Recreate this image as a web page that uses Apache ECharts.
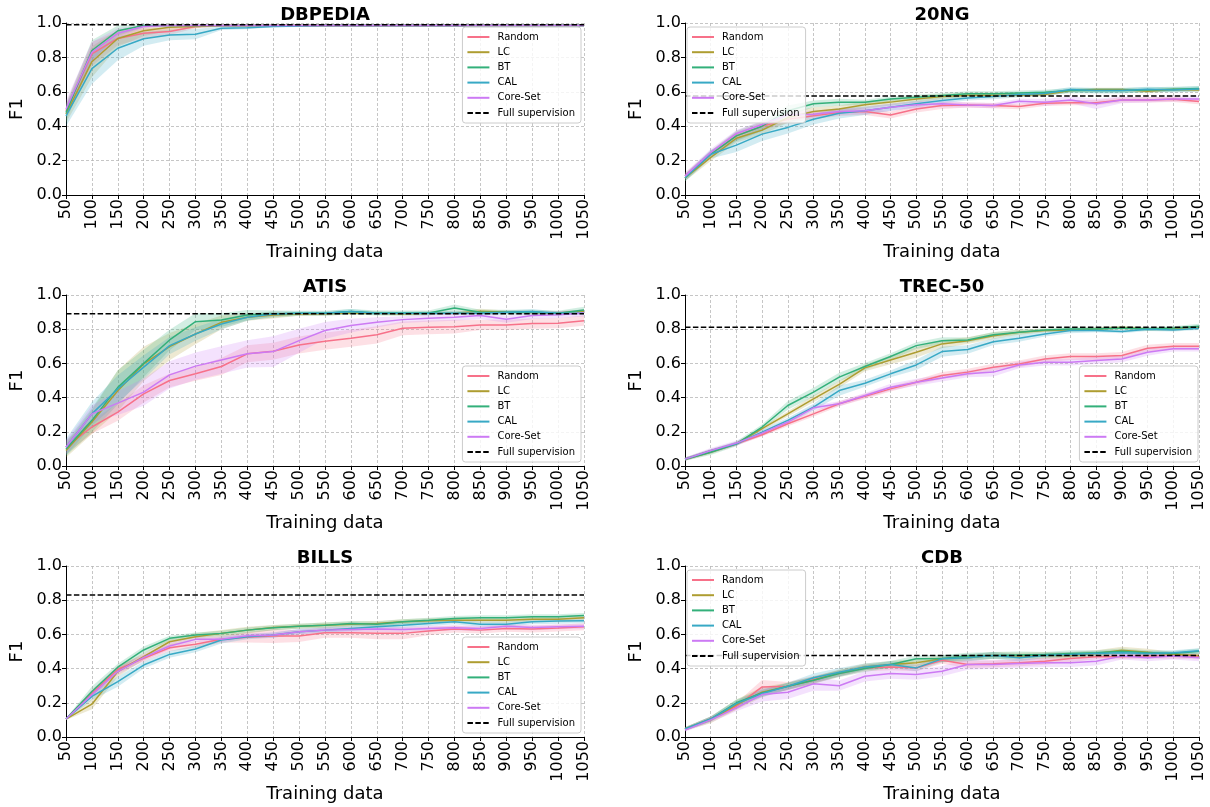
<!DOCTYPE html>
<html>
<head>
<meta charset="utf-8">
<script src="https://cdn.jsdelivr.net/npm/echarts@6/dist/echarts.min.js"></script>
<style>
html,body{margin:0;padding:0;background:#fff;}
#chart{width:1210px;height:807px;}
</style>
</head>
<body>
<div id="chart"></div>
<script>
// ---------- DATA ----------
const trainingData = ['50','100','150','200','250','300','350','400','450','500','550','600','650','700','750','800','850','900','950','1000','1050'];
const methodNames = ['Random','LC','BT','CAL','Core-Set'];
const fullName = 'Full supervision';
const panelTitles = ['DBPEDIA','20NG','ATIS','TREC-50','BILLS','CDB'];
const yTicks = [0, 0.2, 0.4, 0.6, 0.8, 1.0];

// DBPEDIA
const dbpediaFull = 0.99;
const dbpediaMean = [
  [0.49,0.82,0.91,0.94,0.95,0.98,0.985,0.985,0.985,0.985,0.985,0.985,0.985,0.985,0.985,0.985,0.985,0.985,0.985,0.985,0.985],
  [0.47,0.775,0.91,0.955,0.975,0.98,0.985,0.985,0.985,0.985,0.985,0.985,0.985,0.985,0.985,0.985,0.985,0.985,0.985,0.985,0.985],
  [0.48,0.84,0.955,0.985,0.985,0.985,0.985,0.985,0.985,0.985,0.985,0.985,0.985,0.985,0.985,0.985,0.985,0.985,0.985,0.985,0.985],
  [0.46,0.735,0.853,0.908,0.93,0.935,0.97,0.973,0.98,0.982,0.985,0.985,0.985,0.985,0.985,0.985,0.985,0.985,0.985,0.985,0.985],
  [0.50,0.83,0.94,0.98,0.985,0.985,0.985,0.985,0.985,0.985,0.985,0.985,0.985,0.985,0.985,0.985,0.985,0.985,0.985,0.985,0.985]
];
const dbpediaBand = [
  [0.04,0.07,0.04,0.03,0.02,0.01,0.005,0.005,0.005,0.005,0.005,0.005,0.005,0.005,0.005,0.005,0.005,0.005,0.005,0.005,0.005],
  [0.05,0.09,0.05,0.03,0.02,0.01,0.005,0.005,0.005,0.005,0.005,0.005,0.005,0.005,0.005,0.005,0.005,0.005,0.005,0.005,0.005],
  [0.05,0.06,0.03,0.01,0.005,0.005,0.005,0.005,0.005,0.005,0.005,0.005,0.005,0.005,0.005,0.005,0.005,0.005,0.005,0.005,0.005],
  [0.06,0.09,0.07,0.04,0.03,0.03,0.01,0.01,0.005,0.005,0.005,0.005,0.005,0.005,0.005,0.005,0.005,0.005,0.005,0.005,0.005],
  [0.05,0.06,0.03,0.01,0.005,0.005,0.005,0.005,0.005,0.005,0.005,0.005,0.005,0.005,0.005,0.005,0.005,0.005,0.005,0.005,0.005]
];

// 20NG
const ng20Full = 0.575;
const ng20Mean = [
  [0.11,0.237,0.344,0.40,0.44,0.46,0.48,0.485,0.465,0.50,0.52,0.523,0.52,0.514,0.533,0.537,0.537,0.553,0.553,0.556,0.543],
  [0.10,0.218,0.33,0.377,0.45,0.485,0.50,0.525,0.54,0.558,0.572,0.58,0.58,0.58,0.584,0.607,0.613,0.613,0.603,0.613,0.611],
  [0.10,0.237,0.344,0.40,0.49,0.53,0.539,0.539,0.558,0.568,0.578,0.588,0.588,0.593,0.597,0.607,0.607,0.607,0.611,0.615,0.619],
  [0.10,0.237,0.29,0.354,0.393,0.44,0.475,0.49,0.51,0.53,0.549,0.564,0.572,0.584,0.59,0.613,0.607,0.607,0.615,0.611,0.617],
  [0.11,0.247,0.358,0.41,0.467,0.47,0.485,0.49,0.51,0.525,0.53,0.523,0.52,0.545,0.539,0.553,0.53,0.553,0.553,0.558,0.558]
];
const ng20Band = [
  [0.02,0.02,0.025,0.025,0.02,0.02,0.02,0.02,0.02,0.02,0.02,0.015,0.015,0.015,0.015,0.015,0.015,0.015,0.015,0.015,0.015],
  [0.02,0.02,0.025,0.025,0.03,0.025,0.02,0.02,0.02,0.02,0.015,0.015,0.015,0.01,0.01,0.01,0.01,0.01,0.01,0.01,0.01],
  [0.02,0.02,0.03,0.03,0.03,0.02,0.02,0.015,0.015,0.015,0.015,0.015,0.015,0.015,0.015,0.015,0.015,0.015,0.015,0.015,0.015],
  [0.02,0.025,0.04,0.04,0.035,0.03,0.03,0.025,0.02,0.02,0.015,0.015,0.015,0.015,0.015,0.015,0.015,0.015,0.015,0.015,0.015],
  [0.02,0.02,0.02,0.02,0.02,0.02,0.02,0.02,0.02,0.02,0.02,0.015,0.015,0.015,0.02,0.02,0.03,0.02,0.015,0.015,0.015]
];

// ATIS
const atisFull = 0.89;
const atisMean = [
  [0.11,0.228,0.315,0.422,0.50,0.539,0.582,0.656,0.671,0.708,0.73,0.747,0.767,0.805,0.811,0.815,0.825,0.825,0.833,0.835,0.85],
  [0.09,0.257,0.44,0.597,0.698,0.772,0.84,0.87,0.883,0.889,0.89,0.895,0.893,0.89,0.893,0.893,0.905,0.90,0.898,0.895,0.905],
  [0.10,0.267,0.46,0.60,0.737,0.844,0.854,0.883,0.889,0.893,0.893,0.903,0.895,0.895,0.895,0.924,0.899,0.899,0.899,0.893,0.912],
  [0.11,0.305,0.45,0.578,0.704,0.772,0.83,0.87,0.889,0.893,0.893,0.903,0.893,0.893,0.893,0.895,0.893,0.899,0.903,0.893,0.895],
  [0.11,0.305,0.368,0.432,0.533,0.584,0.62,0.656,0.669,0.733,0.792,0.821,0.84,0.856,0.864,0.87,0.88,0.858,0.88,0.885,0.895]
];
const atisBand = [
  [0.04,0.04,0.05,0.05,0.04,0.04,0.05,0.05,0.05,0.05,0.05,0.05,0.05,0.04,0.04,0.04,0.03,0.03,0.03,0.03,0.03],
  [0.04,0.07,0.12,0.10,0.08,0.06,0.04,0.02,0.02,0.01,0.01,0.01,0.01,0.01,0.01,0.01,0.015,0.01,0.01,0.01,0.01],
  [0.04,0.07,0.10,0.08,0.06,0.05,0.04,0.03,0.02,0.015,0.015,0.015,0.015,0.015,0.015,0.02,0.015,0.015,0.015,0.015,0.02],
  [0.05,0.07,0.08,0.07,0.05,0.04,0.03,0.02,0.015,0.01,0.01,0.015,0.01,0.01,0.01,0.01,0.01,0.01,0.015,0.01,0.01],
  [0.04,0.05,0.07,0.08,0.08,0.08,0.08,0.08,0.09,0.07,0.05,0.04,0.03,0.02,0.02,0.02,0.02,0.02,0.02,0.02,0.02]
];

// TREC-50
const trecFull = 0.811;
const trecMean = [
  [0.04,0.09,0.13,0.183,0.247,0.305,0.364,0.407,0.451,0.49,0.529,0.549,0.578,0.597,0.626,0.64,0.64,0.646,0.689,0.70,0.70],
  [0.04,0.08,0.13,0.218,0.305,0.393,0.477,0.574,0.62,0.665,0.714,0.733,0.762,0.782,0.792,0.796,0.801,0.81,0.801,0.801,0.81],
  [0.04,0.08,0.13,0.228,0.354,0.432,0.52,0.582,0.64,0.704,0.733,0.737,0.768,0.782,0.796,0.801,0.801,0.807,0.801,0.807,0.817],
  [0.04,0.09,0.13,0.198,0.267,0.344,0.441,0.484,0.539,0.591,0.669,0.681,0.727,0.747,0.772,0.792,0.792,0.786,0.80,0.796,0.805],
  [0.04,0.09,0.134,0.192,0.257,0.34,0.364,0.412,0.461,0.49,0.514,0.539,0.549,0.591,0.607,0.607,0.617,0.626,0.665,0.685,0.685]
];
const trecBand = [
  [0.01,0.01,0.01,0.01,0.015,0.015,0.015,0.015,0.015,0.015,0.02,0.02,0.02,0.02,0.02,0.02,0.02,0.02,0.02,0.02,0.02],
  [0.01,0.01,0.01,0.01,0.015,0.02,0.02,0.02,0.025,0.03,0.025,0.02,0.02,0.015,0.01,0.01,0.01,0.01,0.01,0.01,0.01],
  [0.01,0.015,0.015,0.015,0.025,0.025,0.025,0.02,0.02,0.02,0.02,0.015,0.015,0.015,0.01,0.01,0.01,0.01,0.01,0.01,0.015],
  [0.01,0.01,0.01,0.015,0.015,0.02,0.03,0.02,0.02,0.03,0.03,0.025,0.02,0.02,0.015,0.015,0.01,0.01,0.01,0.01,0.01],
  [0.01,0.015,0.015,0.015,0.015,0.015,0.015,0.015,0.02,0.02,0.02,0.02,0.025,0.02,0.02,0.02,0.02,0.02,0.02,0.015,0.015]
];

// BILLS
const billsFull = 0.83;
const billsMean = [
  [0.105,0.256,0.396,0.46,0.522,0.542,0.571,0.583,0.59,0.59,0.61,0.61,0.606,0.606,0.62,0.631,0.625,0.635,0.631,0.637,0.645],
  [0.105,0.192,0.383,0.47,0.557,0.586,0.606,0.625,0.64,0.648,0.654,0.66,0.664,0.674,0.68,0.683,0.683,0.683,0.689,0.689,0.697],
  [0.105,0.266,0.408,0.509,0.577,0.596,0.606,0.625,0.639,0.648,0.654,0.664,0.66,0.674,0.683,0.693,0.697,0.697,0.703,0.703,0.71],
  [0.105,0.237,0.324,0.421,0.483,0.515,0.567,0.586,0.596,0.616,0.625,0.635,0.645,0.654,0.664,0.674,0.66,0.66,0.674,0.678,0.68],
  [0.105,0.247,0.383,0.466,0.532,0.571,0.571,0.592,0.596,0.616,0.625,0.629,0.631,0.629,0.635,0.639,0.635,0.648,0.64,0.645,0.648]
];
const billsBand = [
  [0.005,0.02,0.02,0.02,0.02,0.02,0.02,0.03,0.04,0.035,0.03,0.03,0.035,0.035,0.025,0.02,0.02,0.02,0.02,0.02,0.02],
  [0.005,0.03,0.03,0.02,0.02,0.02,0.02,0.02,0.015,0.015,0.015,0.015,0.015,0.015,0.015,0.015,0.015,0.015,0.015,0.015,0.015],
  [0.005,0.03,0.02,0.02,0.015,0.015,0.015,0.015,0.015,0.015,0.015,0.015,0.015,0.015,0.015,0.015,0.015,0.015,0.015,0.015,0.015],
  [0.005,0.02,0.03,0.02,0.02,0.02,0.02,0.015,0.015,0.015,0.015,0.015,0.015,0.015,0.015,0.015,0.015,0.015,0.015,0.015,0.015],
  [0.005,0.02,0.02,0.02,0.02,0.015,0.015,0.015,0.015,0.015,0.015,0.015,0.015,0.015,0.015,0.015,0.015,0.015,0.015,0.015,0.015]
];

// CDB
const cdbFull = 0.477;
const cdbMean = [
  [0.047,0.105,0.18,0.293,0.297,0.336,0.371,0.404,0.41,0.404,0.449,0.424,0.428,0.434,0.443,0.459,0.469,0.469,0.473,0.473,0.469],
  [0.047,0.10,0.19,0.262,0.297,0.332,0.375,0.41,0.424,0.434,0.457,0.463,0.477,0.473,0.477,0.477,0.488,0.508,0.496,0.482,0.477],
  [0.047,0.105,0.20,0.258,0.297,0.332,0.371,0.40,0.424,0.457,0.459,0.473,0.477,0.48,0.482,0.488,0.492,0.502,0.492,0.488,0.502],
  [0.047,0.105,0.195,0.254,0.297,0.346,0.379,0.41,0.424,0.404,0.457,0.463,0.477,0.463,0.477,0.482,0.488,0.492,0.488,0.492,0.504],
  [0.04,0.10,0.17,0.248,0.262,0.311,0.30,0.355,0.371,0.365,0.385,0.424,0.424,0.43,0.434,0.434,0.443,0.473,0.463,0.473,0.463]
];
const cdbBand = [
  [0.01,0.015,0.02,0.04,0.025,0.02,0.02,0.02,0.02,0.02,0.02,0.02,0.02,0.02,0.02,0.02,0.015,0.015,0.015,0.015,0.015],
  [0.01,0.02,0.03,0.03,0.02,0.02,0.02,0.02,0.02,0.02,0.02,0.02,0.02,0.02,0.02,0.02,0.02,0.02,0.02,0.015,0.015],
  [0.01,0.015,0.02,0.02,0.02,0.02,0.02,0.02,0.02,0.02,0.02,0.02,0.02,0.02,0.015,0.02,0.015,0.015,0.015,0.015,0.015],
  [0.01,0.015,0.02,0.02,0.02,0.025,0.025,0.02,0.02,0.02,0.02,0.02,0.02,0.02,0.015,0.015,0.015,0.015,0.015,0.015,0.015],
  [0.01,0.015,0.02,0.04,0.04,0.04,0.03,0.03,0.03,0.03,0.03,0.03,0.025,0.025,0.025,0.025,0.025,0.02,0.02,0.02,0.02]
];

// ---------- STYLE / LAYOUT ----------
const colors = ['#f77189','#ae9d31','#33b07a','#38a9c5','#cc7af4'];
const FONT = 'DejaVu Sans';
const panelMeans = [dbpediaMean, ng20Mean, atisMean, trecMean, billsMean, cdbMean];
const panelBands = [dbpediaBand, ng20Band, atisBand, trecBand, billsBand, cdbBand];
const panelFull = [dbpediaFull, ng20Full, atisFull, trecFull, billsFull, cdbFull];

const gridBoxes = [
  {left:66, top:23, width:518, height:172},
  {left:685, top:23, width:514, height:172},
  {left:66, top:295, width:518, height:171},
  {left:685, top:295, width:514, height:171},
  {left:66, top:566, width:518, height:171},
  {left:685, top:566, width:514, height:171}
];
const legendPos = [
  {right:629, top:27},
  {left:687, top:27},
  {right:629, top:366},
  {right:12, top:366},
  {right:629, top:637},
  {left:687, top:570}
];

const option = {
  backgroundColor:'#fff',
  animation:false,
  textStyle:{fontFamily:FONT, color:'#000'},
  title:[], grid:[], xAxis:[], yAxis:[], legend:[], series:[]
};

panelTitles.forEach((t, p) => {
  const g = gridBoxes[p];
  option.grid.push({left:g.left, top:g.top, width:g.width, height:g.height, containLabel:false});
  option.title.push({
    text:t, left:g.left + g.width/2, top:g.top - 17, textAlign:'center', padding:0,
    textStyle:{fontFamily:FONT, fontSize:18, fontWeight:'bold', color:'#000'}
  });
  option.xAxis.push({
    type:'category', gridIndex:p, data:trainingData, boundaryGap:false,
    name:'Training data', nameLocation:'middle', nameGap:46,
    nameTextStyle:{fontFamily:FONT, fontSize:18, color:'#000'},
    axisLine:{lineStyle:{color:'#000', width:1}},
    axisTick:{show:true, length:4, lineStyle:{color:'#000'}},
    axisLabel:{rotate:90, interval:0, fontSize:16, color:'#000', fontFamily:FONT, margin:4},
    splitLine:{show:true, interval:0, lineStyle:{color:'#b8b8b8', type:[3,2], width:0.8}}
  });
  option.yAxis.push({
    type:'value', gridIndex:p, min:yTicks[0], max:yTicks[yTicks.length-1], interval:0.2,
    name:'F1', nameLocation:'middle', nameGap:40,
    nameTextStyle:{fontFamily:FONT, fontSize:18, color:'#000'},
    axisLine:{show:true, lineStyle:{color:'#000', width:1}},
    axisTick:{show:true, length:4, lineStyle:{color:'#000'}},
    axisLabel:{fontSize:16, color:'#000', fontFamily:FONT, margin:4, formatter:v => v.toFixed(1)},
    splitLine:{show:true, lineStyle:{color:'#b8b8b8', type:[3,2], width:0.8}}
  });
  option.legend.push(Object.assign({
    orient:'vertical', data:methodNames.concat([fullName]),
    itemWidth:22, itemHeight:12, itemGap:3.2,
    padding:[4,6,4,4],
    backgroundColor:'rgba(255,255,255,0.8)', borderColor:'#cccccc', borderWidth:1, borderRadius:3,
    itemStyle:{color:'rgba(0,0,0,0)', borderColor:'rgba(0,0,0,0)', borderWidth:0, opacity:0},
    textStyle:{fontFamily:FONT, fontSize:10, lineHeight:12, color:'#000', padding:[0,0,0,3]},
    selectedMode:false, z:10
  }, legendPos[p]));

  const means = panelMeans[p], bands = panelBands[p];
  means.forEach((m, k) => {
    const b = bands[k];
    const stackId = 'band' + p + '_' + k;
    option.series.push({
      type:'line', name:'_lo' + k, xAxisIndex:p, yAxisIndex:p, stack:stackId,
      data:m.map((v,i) => +(v - b[i]).toFixed(4)), symbol:'none', silent:true,
      lineStyle:{opacity:0}, z:1
    });
    option.series.push({
      type:'line', name:'_hi' + k, xAxisIndex:p, yAxisIndex:p, stack:stackId,
      data:b.map(v => +(2*v).toFixed(4)), symbol:'none', silent:true,
      lineStyle:{opacity:0}, areaStyle:{color:colors[k], opacity:0.22}, z:1
    });
  });
  means.forEach((m, k) => {
    option.series.push({
      type:'line', name:methodNames[k], xAxisIndex:p, yAxisIndex:p,
      data:m, symbol:'none', color:colors[k],
      lineStyle:{color:colors[k], width:1.5}, z:3
    });
  });
  option.series.push({
    type:'line', name:fullName, xAxisIndex:p, yAxisIndex:p,
    data:trainingData.map(() => panelFull[p]), symbol:'none', color:'#000',
    lineStyle:{color:'#000', width:1.5, type:[5.5,2.4]}, z:4
  });
});

const chart = echarts.init(document.getElementById('chart'), null, {renderer:'canvas'});
chart.setOption(option);
</script>
</body>
</html>
